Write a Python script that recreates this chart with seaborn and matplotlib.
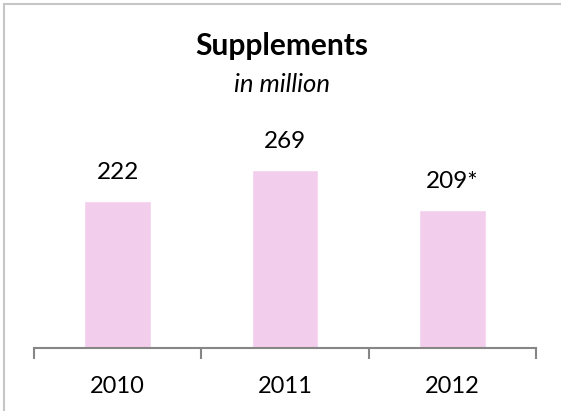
import matplotlib
matplotlib.use("Agg")
import matplotlib.pyplot as plt
import seaborn as sns
import pandas as pd
from matplotlib.lines import Line2D

years = ["2010", "2011", "2012"]
values = [222, 269, 209]
labels = ["222", "269", "209*"]

sns.set_theme(style="white")
plt.rcParams['font.family'] = ['Lato', 'DejaVu Sans']

W, H = 561, 411
fig = plt.figure(figsize=(W / 100, H / 100), dpi=100)
ax = fig.add_axes([34 / W, (H - 347.5) / H, 502 / W, (347.5 - 20) / H])

df = pd.DataFrame({"year": years, "value": values})
sns.barplot(data=df, x="year", y="value", color="#F3CEEC", saturation=1,
            width=0.4, ax=ax)
ax.set_xlim(-0.5, 2.5)
ax.set_ylim(0, 496)
ax.set_xlabel("")
ax.set_ylabel("")
ax.set_yticks([])
for s in ["top", "right", "left"]:
    ax.spines[s].set_visible(False)
ax.spines["bottom"].set_color("#868686")
ax.spines["bottom"].set_linewidth(1.5)
ax.set_xticks([-0.5, 0.5, 1.5, 2.5], minor=False)
ax.set_xticklabels([])
ax.tick_params(axis="x", which="major", length=8, width=1.5, color="#868686",
               bottom=True, direction="out")
for i, y in enumerate(years):
    ax.text(i, -0.118, y, transform=ax.get_xaxis_transform(), ha="center",
            va="center", fontsize=17, color="#000000")

for i, (v, lab) in enumerate(zip(values, labels)):
    ax.annotate(lab, (i, v), xytext=(0, 18), textcoords="offset pixels",
                ha="center", va="bottom", fontsize=17.5, color="#000000")

fig.text(282 / W, 1 - 46 / H, "Supplements", ha="center", va="center",
         fontsize=21.5, fontweight="bold", color="#000000")
fig.text(282 / W, 1 - 85 / H, "in million", ha="center", va="center",
         fontsize=18.5, fontstyle="italic", color="#000000")

fig.add_artist(Line2D([4 / W, 4 / W], [0, 1 - 4 / H], transform=fig.transFigure,
                      color="#C6C6C6", lw=1.5))
fig.add_artist(Line2D([4 / W, 1], [1 - 4 / H, 1 - 4 / H], transform=fig.transFigure,
                      color="#C6C6C6", lw=1.5))

fig.savefig("out.png", dpi=100)
